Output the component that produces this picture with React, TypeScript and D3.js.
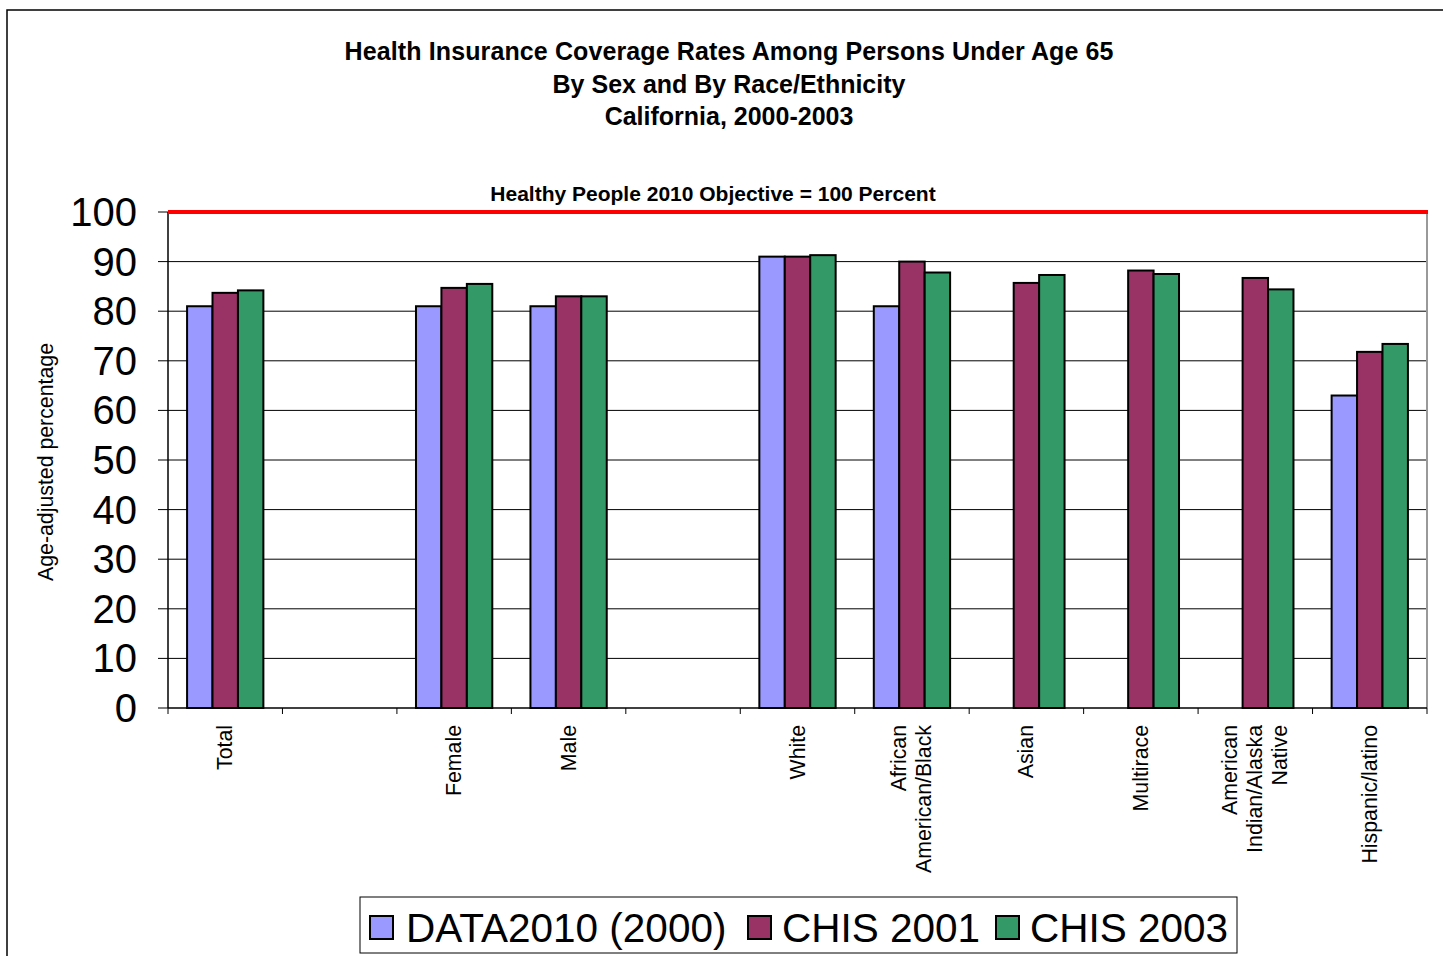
import React from "react";
import * as d3 from "d3";

const categories = [
  "Total",
  "",
  "Female",
  "Male",
  "",
  "White",
  "African\nAmerican/Black",
  "Asian",
  "Multirace",
  "American\nIndian/Alaska\nNative",
  "Hispanic/latino",
];
const seriesNames = ["DATA2010 (2000)", "CHIS 2001", "CHIS 2003"];
const seriesColors = ["#9999FF", "#993366", "#339966"];
const data2010: (number | null)[] = [81, null, 81, 81, null, 91, 81, null, null, null, 63];
const chis2001: (number | null)[] = [83.7, null, 84.7, 83, null, 91, 90, 85.7, 88.2, 86.7, 71.8];
const chis2003: (number | null)[] = [84.2, null, 85.5, 83, null, 91.3, 87.8, 87.3, 87.5, 84.4, 73.4];
const yTicks = [0, 10, 20, 30, 40, 50, 60, 70, 80, 90, 100];
const titleLines = [
  "Health Insurance Coverage Rates Among Persons Under Age 65",
  "By Sex and By Race/Ethnicity",
  "California, 2000-2003",
];
const objectiveLabel = "Healthy People 2010 Objective = 100 Percent";
const objectiveValue = 100;

export default function App() {
  const W = 1443, H = 956;
  const left = 168, right = 1427, top = 212, bottom = 708;
  const font = "'Liberation Sans', Arial, sans-serif";
  const x = d3.scaleBand<number>().domain(categories.map((_, i) => i)).range([left, right]).paddingInner(0).paddingOuter(0);
  const y = d3.scaleLinear().domain([0, 100]).range([bottom, top]);
  // Excel gap width 150%: group width = 3 bars, gap = 1.5 bars -> total 4.5 bars
  const bw = x.bandwidth() / 4.5;
  const series = [data2010, chis2001, chis2003];

  const legendItems = [
    { sx: 370, tx: 406 },
    { sx: 748, tx: 782 },
    { sx: 996, tx: 1030 },
  ];

  return (
    <svg width={W} height={H} style={{ position: "absolute", left: 0, top: 0 }} fontFamily={font}>
      <rect x={0} y={0} width={W} height={H} fill="#fff" />
      <rect x={7} y={10} width={W + 10} height={H + 10} fill="none" stroke="#000" strokeWidth={1.5} />
      {titleLines.map((t, i) => (
        <text key={i} x={729} y={60 + i * 32.5} textAnchor="middle" fontWeight="bold" fontSize={25} textLength={i === 0 ? 769 : undefined}>
          {t}
        </text>
      ))}
      {/* gridlines */}
      {yTicks.map((t) => (
        <line key={t} x1={left - 10} x2={t === 0 ? left : right} y1={y(t)} y2={y(t)} stroke="#000" strokeWidth={1} />
      ))}
      {/* plot right border */}
      <line x1={right} x2={right} y1={top} y2={bottom} stroke="#999" strokeWidth={2} />
      {/* bars */}
      {series.map((s, si) =>
        s.map((v, ci) =>
          v == null ? null : (
            <rect
              key={`${si}-${ci}`}
              x={(x(ci) as number) + bw * 0.75 + si * bw}
              y={y(v)}
              width={bw}
              height={y(0) - y(v)}
              fill={seriesColors[si]}
              stroke="#000"
              strokeWidth={2}
            />
          )
        )
      )}
      {/* x axis */}
      <line x1={left} x2={right} y1={bottom} y2={bottom} stroke="#000" strokeWidth={1.5} />
      {categories.map((_, i) => (
        <line key={i} x1={x(i) as number} x2={x(i) as number} y1={bottom} y2={bottom + 6} stroke="#000" strokeWidth={1} />
      ))}
      <line x1={right} x2={right} y1={bottom} y2={bottom + 6} stroke="#000" strokeWidth={1} />
      {/* y axis */}
      <line x1={left} x2={left} y1={top} y2={bottom} stroke="#000" strokeWidth={1.5} />
      {/* objective line */}
      <line x1={left} x2={right + 1} y1={y(objectiveValue)} y2={y(objectiveValue)} stroke="#FF0000" strokeWidth={4} />
      <text x={713} y={201} textAnchor="middle" fontWeight="bold" fontSize={21}>
        {objectiveLabel}
      </text>
      {/* y tick labels */}
      {yTicks.map((t) => (
        <text key={t} x={137} y={y(t) + 14} textAnchor="end" fontSize={40}>
          {t}
        </text>
      ))}
      <text transform={`translate(53,462) rotate(-90)`} textAnchor="middle" fontSize={21.3}>
        Age-adjusted percentage
      </text>
      {/* category labels */}
      {categories.map((c, i) => {
        if (!c) return null;
        const lines = c.split("\n");
        const cx = (x(i) as number) + x.bandwidth() / 2;
        return lines.map((ln, li) => {
          const off = (li - (lines.length - 1) / 2) * 25;
          return (
            <text
              key={`${i}-${li}`}
              transform={`translate(${cx + off},725) rotate(-90)`}
              textAnchor="end"
              dominantBaseline="central"
              fontSize={21.3}
            >
              {ln}
            </text>
          );
        });
      })}
      {/* legend */}
      <rect x={360} y={897} width={877} height={56} fill="#fff" stroke="#000" strokeWidth={1} />
      {seriesNames.map((n, i) => (
        <g key={n}>
          <rect x={legendItems[i].sx} y={916} width={23} height={23} fill={seriesColors[i]} stroke="#000" strokeWidth={2} />
          <text x={legendItems[i].tx} y={942} fontSize={40.5}>
            {n}
          </text>
        </g>
      ))}
    </svg>
  );
}
